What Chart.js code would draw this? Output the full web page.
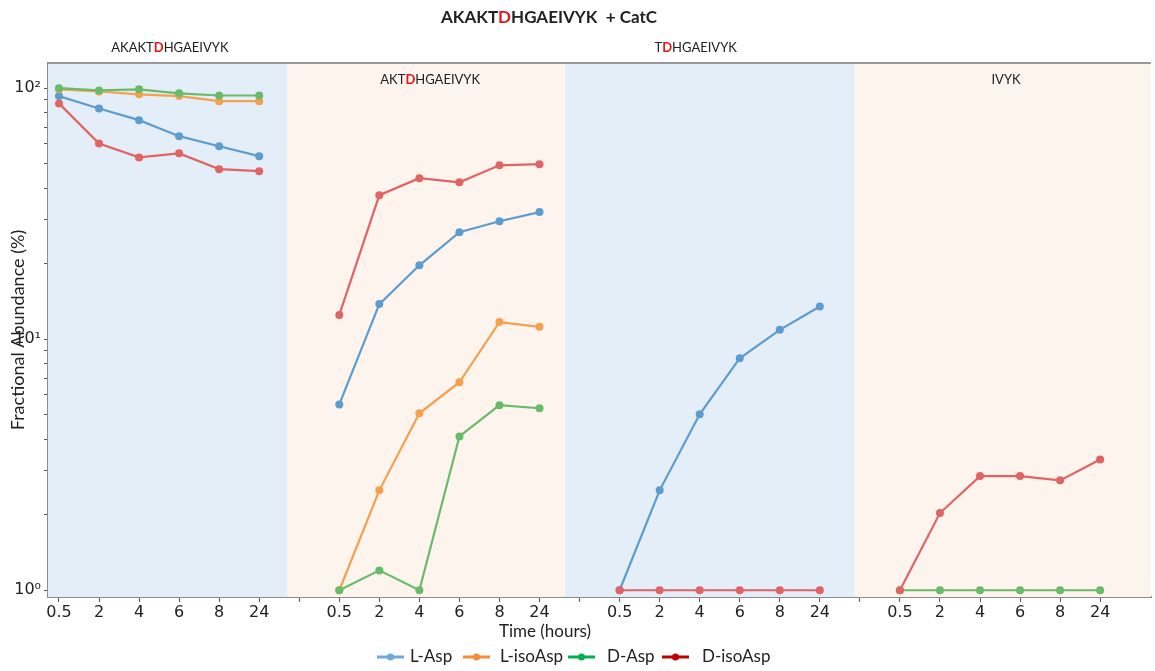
<!DOCTYPE html>
<html>
<head>
<meta charset="utf-8">
<script src="https://cdn.jsdelivr.net/npm/chart.js@4.4.1/dist/chart.umd.min.js"></script>
<style>
  body { margin: 0; background: #fff; }
  canvas { display: block; }
</style>
</head>
<body>
<canvas id="abundanceChart" width="1155" height="671"></canvas>
<script>
// time points (hours) shown under every panel
const timeLabels = ['0.5', '2', '4', '6', '8', '24'];
// one panel per peptide
const peptides = ['AKAKTDHGAEIVYK', 'AKTDHGAEIVYK', 'TDHGAEIVYK', 'IVYK'];
const seriesNames = ['L-Asp', 'L-isoAsp', 'D-Asp', 'D-isoAsp'];

// fractional abundance (%), one row per panel
const lAsp = [
  [93, 83, 74.6, 64.4, 58.7, 53.6],
  [5.5, 13.8, 19.7, 26.7, 29.5, 32.1],
  [1, 2.5, 5.02, 8.4, 10.9, 13.5],
  [null, null, null, null, null, null]
];
const lIsoAsp = [
  [99, 97, 94.5, 93, 88.8, 88.8],
  [1, 2.5, 5.07, 6.74, 11.7, 11.2],
  [null, null, null, null, null, null],
  [null, null, null, null, null, null]
];
const dAsp = [
  [100, 98, 99, 95.4, 93.5, 93.5],
  [1, 1.2, 1, 4.1, 5.46, 5.31],
  [null, null, null, null, null, null],
  [1, 1, 1, 1, 1, 1]
];
const dIsoAsp = [
  [87, 60.2, 53, 55, 47.6, 46.7],
  [12.5, 37.5, 43.8, 42.2, 49.3, 49.8],
  [1, 1, 1, 1, 1, 1],
  [1, 2.03, 2.85, 2.85, 2.74, 3.32]
];

const yTickValues = [1, 2, 3, 4, 5, 6, 7, 8, 9, 10, 20, 30, 40, 50, 60, 70, 80, 90, 100];
const yTickText = { 1: '10\u2070', 10: '10\u00b9', 100: '10\u00b2' };

const lineColors = ['#5d9cce', '#f4a04e', '#68bb68', '#e06464'];
const legendColors = ['#6fa8dc', '#f58b3c', '#00b050', '#c00000'];
const panelFills = ['#e4eef8', '#fdf4ee', '#e4eef8', '#fdf4ee'];

const SLOTS = 7;  // six time points + one empty slot between panels
const panelEdges = [-0.274, 5.71, 12.64, 19.87, 27.27];
const panelLabelPos = [[2.77, 48], [9.27, 80], [15.9, 48], [23.65, 80]];

const TEXT = '#222';
const SANS = 'Lato, "Open Sans", sans-serif';
const TICK_FONT = '"DejaVu Sans", sans-serif';

function toPoints(rows) {
  const pts = [];
  rows.forEach((row, p) => {
    row.forEach((v, j) => pts.push({ x: p * SLOTS + j, y: v }));
    pts.push({ x: p * SLOTS + 6, y: null });
  });
  return pts;
}

// draws "AB<red D>CD" with the D highlighted
function drawPeptide(ctx, text, cx, cy, font, boldD, suffix) {
  const i = text.indexOf('D');
  const parts = i < 0 ? [[text + (suffix || ''), TEXT, font]] : [
    [text.slice(0, i), TEXT, font],
    ['D', '#e8141b', boldD],
    [text.slice(i + 1) + (suffix || ''), TEXT, font]
  ];
  let w = 0;
  parts.forEach(p => { ctx.font = p[2]; w += ctx.measureText(p[0]).width; });
  let x = cx - w / 2;
  ctx.textBaseline = 'middle';
  ctx.textAlign = 'left';
  parts.forEach(p => {
    ctx.font = p[2];
    ctx.fillStyle = p[1];
    ctx.fillText(p[0], x, cy);
    x += ctx.measureText(p[0]).width;
  });
}

const panelBands = {
  id: 'panelBands',
  beforeDatasetsDraw(chart) {
    const { ctx, chartArea, scales } = chart;
    ctx.save();
    for (let p = 0; p < 4; p++) {
      const x0 = scales.x.getPixelForValue(panelEdges[p]);
      const x1 = scales.x.getPixelForValue(panelEdges[p + 1]);
      ctx.fillStyle = panelFills[p];
      ctx.fillRect(x0, chartArea.top, x1 - x0, chartArea.bottom - chartArea.top);
    }
    ctx.strokeStyle = '#999';
    ctx.lineWidth = 2;
    ctx.beginPath();
    ctx.moveTo(chartArea.left, chartArea.top);
    ctx.lineTo(chartArea.right, chartArea.top);
    ctx.stroke();
    ctx.restore();
  },
  afterDraw(chart) {
    const { ctx, chartArea, scales } = chart;
    ctx.save();
    // title
    drawPeptide(ctx, 'AKAKTDHGAEIVYK', 549, 18, 'bold 17px ' + SANS, 'bold 17px ' + SANS, '  + CatC');
    // panel names
    peptides.forEach((name, p) => {
      const [ux, py] = panelLabelPos[p];
      drawPeptide(ctx, name, scales.x.getPixelForValue(ux), py, '13px ' + SANS, 'bold 13px ' + SANS);
    });
    // axis titles
    ctx.fillStyle = TEXT;
    ctx.font = '17px ' + SANS;
    ctx.textAlign = 'center';
    ctx.textBaseline = 'middle';
    ctx.fillText('Time (hours)', 545, 632);
    ctx.font = '18px ' + SANS;
    ctx.translate(18, (chartArea.top + chartArea.bottom) / 2);
    ctx.rotate(-Math.PI / 2);
    ctx.fillText('Fractional Abundance (%)', 0, 0);
    ctx.restore();

    // legend
    ctx.save();
    const lineX = [377, 463, 568, 662];
    const textX = [410, 500, 607, 702];
    const ly = 657;
    seriesNames.forEach((name, i) => {
      ctx.strokeStyle = legendColors[i];
      ctx.fillStyle = legendColors[i];
      ctx.lineWidth = 3;
      ctx.beginPath();
      ctx.moveTo(lineX[i], ly);
      ctx.lineTo(lineX[i] + 27, ly);
      ctx.stroke();
      ctx.beginPath();
      ctx.arc(lineX[i] + 13.5, ly, 3.5, 0, Math.PI * 2);
      ctx.fill();
      ctx.fillStyle = TEXT;
      ctx.font = '17px ' + SANS;
      ctx.textAlign = 'left';
      ctx.textBaseline = 'middle';
      ctx.fillText(name, textX[i], ly);
    });
    ctx.restore();
  }
};

const allSeries = [lAsp, lIsoAsp, dAsp, dIsoAsp];
const datasets = allSeries.map((rows, i) => ({
  label: seriesNames[i],
  data: toPoints(rows),
  borderColor: lineColors[i],
  backgroundColor: lineColors[i],
  borderWidth: 2.2,
  pointRadius: 4,
  pointBorderWidth: 0,
  pointHoverRadius: 4,
  spanGaps: false,
  order: 3 - i
}));

new Chart(document.getElementById('abundanceChart'), {
  type: 'line',
  data: { datasets },
  plugins: [panelBands],
  options: {
    responsive: false,
    animation: false,
    layout: { padding: { top: 63, right: 2, left: 0, bottom: 0 } },
    plugins: {
      legend: { display: false },
      title: { display: false },
      tooltip: { enabled: false }
    },
    scales: {
      x: {
        type: 'linear',
        min: panelEdges[0],
        max: panelEdges[4],
        afterBuildTicks(scale) {
          const t = [];
          for (let i = 0; i < 4 * SLOTS - 1; i++) t.push({ value: i });
          scale.ticks = t;
        },
        afterFit(scale) { scale.height = 74; },
        ticks: {
          autoSkip: false,
          maxRotation: 0,
          padding: 1,
          color: TEXT,
          font: { family: TICK_FONT, size: 16 },
          callback(value) {
            const j = value % SLOTS;
            return j < 6 ? timeLabels[j] : '';
          }
        },
        grid: { drawOnChartArea: false, drawTicks: true, tickLength: 5, tickColor: '#555' },
        border: { color: '#8c8c8c', width: 2 }
      },
      y: {
        type: 'logarithmic',
        min: 0.94,
        max: 126,
        afterBuildTicks(scale) {
          scale.ticks = yTickValues.map(v => ({ value: v, major: v in yTickText }));
        },
        afterFit(scale) { scale.width = 48; },
        ticks: {
          autoSkip: false,
          padding: 3,
          color: TEXT,
          font: { family: TICK_FONT, size: 16 },
          callback(value) { return yTickText[value] || ''; }
        },
        grid: { drawOnChartArea: false, drawTicks: true, tickLength: 4, tickColor: '#555' },
        border: { color: '#8c8c8c', width: 2 }
      }
    }
  }
});
</script>
</body>
</html>
